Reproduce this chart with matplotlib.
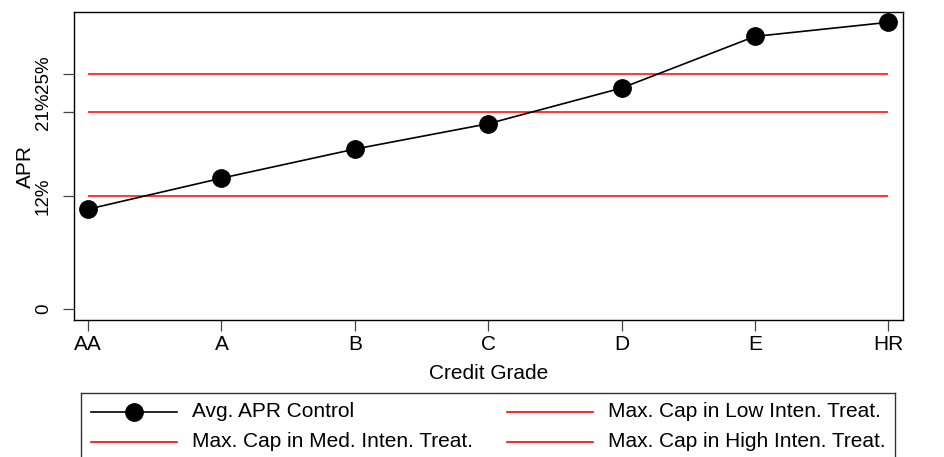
import numpy as np
import matplotlib.pyplot as plt

plt.rcParams['font.family'] = ['Liberation Sans', 'DejaVu Sans']

grades = ["AA", "A", "B", "C", "D", "E", "HR"]
avg_apr = [10.6, 13.9, 17.0, 19.7, 23.5, 29.0, 30.5]
cap_values = [25, 21, 12]
cap_labels = ["Max. Cap in Low Inten. Treat.",
              "Max. Cap in Med. Inten. Treat.",
              "Max. Cap in High Inten. Treat."]
ytick_vals = [0, 12, 21, 25]
ytick_labels = ["0", "12%", "21%", "25%"]

FS = 15
W, H = 944, 457
fig = plt.figure(figsize=(W / 100, H / 100), dpi=100)
ax = fig.add_axes([74 / W, 1 - 320 / H, (903 - 74) / W, (320 - 12) / H])

x = np.arange(len(grades))
ax.hlines(cap_values, x[0], x[-1], color="red", lw=1.1)
ax.plot(x, avg_apr, color="black", lw=1.2, marker="o", ms=12.5)

ax.set_xlim(-0.105, 6.11)
ax.set_ylim(-1.2, 31.6)
ax.set_xticks(x)
ax.set_xticklabels(grades, fontsize=FS)
ax.set_yticks(ytick_vals)
ax.set_yticklabels(ytick_labels, fontsize=13.5, rotation=90, va="center")
ax.tick_params(direction="out", length=8, width=0.9, color="#444444", pad=3)
ax.tick_params(axis="y", pad=8)
ax.set_xlabel("Credit Grade", fontsize=FS, labelpad=7)
ax.set_ylabel("APR", fontsize=FS, labelpad=0)
for s in ax.spines.values():
    s.set_linewidth(1.0)

# legend drawn in pixel coordinates, like the Stata box that runs off the page
lax = fig.add_axes([81 / W, -5 / H, (895 - 81) / W, (462 - 393) / H])
lax.set_xlim(81, 895)
lax.set_ylim(462, 393)
lax.set_xticks([])
lax.set_yticks([])
for s in lax.spines.values():
    s.set_linewidth(1.0)
    s.set_color("#333333")

entries = [("Avg. APR Control", "black", True, 91, 412),
           (cap_labels[0], "red", False, 507, 412),
           (cap_labels[1], "red", False, 91, 442),
           (cap_labels[2], "red", False, 507, 442)]
for label, col, mk, x0, yy in entries:
    lax.plot([x0, x0 + 86], [yy, yy], color=col, lw=1.2, clip_on=False, zorder=3)
    if mk:
        lax.plot([x0 + 43], [yy], "o", color=col, ms=12.5, clip_on=False, zorder=3)
    lax.text(x0 + 101, yy, label, fontsize=FS, va="center", ha="left", clip_on=False)

fig.savefig("out.png", dpi=100)
